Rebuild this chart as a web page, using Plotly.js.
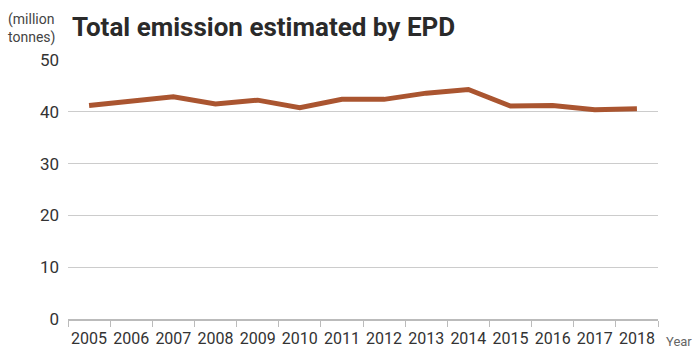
<!DOCTYPE html>
<html><head><meta charset="utf-8">
<script src="https://cdn.plot.ly/plotly-3.0.1.min.js"></script>
<style>html,body{margin:0;padding:0;background:#fff}</style>
</head><body>
<div id="chart" style="width:697px;height:351px"></div>
<script>
const years = ["2005","2006","2007","2008","2009","2010","2011","2012","2013","2014","2015","2016","2017","2018"];
const emissions = [41.2, 42.1, 42.9, 41.5, 42.25, 40.8, 42.4, 42.4, 43.6, 44.3, 41.1, 41.2, 40.4, 40.6];
const yTicks = [0, 10, 20, 30, 40, 50];

const FONT = "Roboto, 'Noto Sans', sans-serif";

Plotly.newPlot("chart", [{
  x: years, y: emissions, type: "scatter", mode: "lines",
  line: {color: "#aa5530", width: 5},
  hoverinfo: "skip"
}], {
  width: 697, height: 351,
  margin: {l: 68, r: 39, t: 60, b: 32},
  paper_bgcolor: "#fff", plot_bgcolor: "#fff",
  showlegend: false,
  font: {family: FONT, color: "#333"},
  title: {text: "<b>Total emission estimated by EPD</b>", font: {family: FONT, size: 26, color: "#2a2a2a"},
          x: 72/697, xanchor: "left", xref: "container", y: 1 - 27/351, yanchor: "middle", yref: "container"},
  xaxis: {type: "category", range: [-0.5, 13.5], tickson: "boundaries", ticks: "outside", ticklen: 6, tickcolor: "#bbb",
          showline: true, linecolor: "#bbb", linewidth: 1.5, showgrid: false, tickangle: 0, ticklabelstandoff: 4,
          tickfont: {size: 16, color: "#333", family: FONT}, fixedrange: true},
  yaxis: {range: [0, 50], tickvals: yTicks, showgrid: true, gridcolor: "#ccc", gridwidth: 1,
          zeroline: false, showline: false, ticks: "", ticklabelstandoff: 8,
          tickfont: {size: 17, color: "#333", family: FONT}, fixedrange: true},
  annotations: [
    {text: "(million<br>tonnes)", xref: "paper", yref: "paper", x: -62/590, y: 1.0, xanchor: "left", yanchor: "bottom",
     yshift: 12, showarrow: false, align: "left", font: {size: 14, color: "#444", family: FONT}},
    {text: "Year", xref: "paper", yref: "paper", x: 1, y: 0, xanchor: "left", yanchor: "top",
     xshift: 6, yshift: -13, showarrow: false, font: {size: 13, color: "#666", family: FONT}}
  ]
}, {displayModeBar: false, staticPlot: true});
</script>
</body></html>
